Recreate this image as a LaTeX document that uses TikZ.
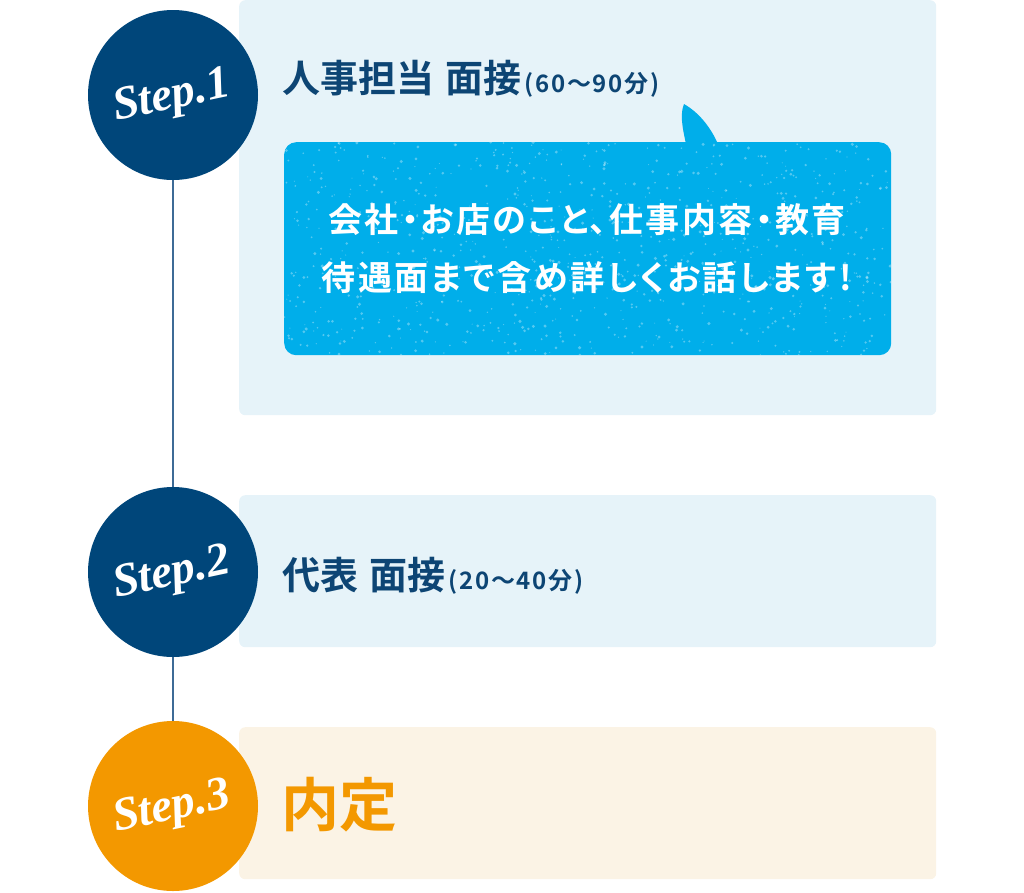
\documentclass[tikz,border=0pt]{standalone}
\usepackage{fontspec}
\newfontfamily\jp{Noto Sans CJK JP}[BoldFont={* Bold}]
\newfontfamily\jpp{Noto Sans CJK JP}[BoldFont={* Bold}, RawFeature=+palt, LetterSpace=7.5]
\newfontfamily\stepfont{Liberation Serif}
\definecolor{navy}{HTML}{00467A}
\definecolor{titlenavy}{HTML}{0D4574}
\definecolor{linecol}{HTML}{3D6B96}
\definecolor{paleblue}{HTML}{E6F3F9}
\definecolor{cream}{HTML}{FBF3E5}
\definecolor{bubblecol}{HTML}{00AEEA}
\definecolor{orange}{HTML}{F39800}
\tikzset{
  panel/.style={rounded corners=6pt, minimum width=697pt, anchor=north west, inner sep=0pt},
  stepcircle/.style={circle, minimum size=170pt, inner sep=0pt},
  steplabel/.style={text=white, rotate=12, inner sep=0pt, font=\stepfont\bfseries\itshape\fontsize{47}{50}\selectfont},
  title/.style={anchor=west, inner sep=0pt, text=titlenavy, font=\jp\bfseries\fontsize{38}{40}\selectfont},
  connector/.style={draw=linecol, line width=1.5pt}
}
\newcommand{\smalltxt}[1]{{\hspace{0.08em}\jp\bfseries\fontsize{24}{26}\selectfont\addfontfeature{LetterSpace=7}#1}}
\begin{document}
\begin{tikzpicture}[x=1pt,y=-1pt]
\useasboundingbox (0,0) rectangle (1024,892);
% panels
\node[panel, fill=paleblue, minimum height=415pt] (p1) at (239,0) {};
\node[panel, fill=paleblue, minimum height=152pt] (p2) at (239,495) {};
\node[panel, fill=cream, minimum height=152pt] (p3) at (239,727) {};
% circles
\node[stepcircle, fill=navy] (s1) at (173,95) {};
\node[stepcircle, fill=navy] (s2) at (173,572) {};
\node[stepcircle, fill=orange] (s3) at (173,806) {};
\draw[connector] (s1.south) -- (s2.north);
\draw[connector] (s2.south) -- (s3.north);
\node[steplabel] (l1) at (172,98) {Step.1};
\node[steplabel] (l2) at (172,575) {Step.2};
\node[steplabel] (l3) at (172,809) {Step.3};
% titles
\node[title] (h1) at (282,79) {人事担当\hspace{0.3em}面接\smalltxt{(60〜90分)}};
\node[title] (h2) at (282,576) {代表\hspace{0.3em}面接\smalltxt{(20〜40分)}};
\node[title, text=orange, font=\jp\bfseries\fontsize{58}{60}\selectfont] (h3) at (281,805) {内定};
% bubble
\fill[bubblecol] (686,144) .. controls (682,126) and (680,114) .. (684,104)
  .. controls (698,112) and (710,126) .. (718,144) -- cycle;
\node[fill=bubblecol, rounded corners=12pt, minimum width=607pt, minimum height=213pt, anchor=north west, inner sep=0pt] (bub) at (284,142) {};
\begin{scope}
\clip[rounded corners=12pt] (284,142) rectangle (891,355);
\pgfmathsetseed{7}
\foreach \i in {1,...,900}{
  \fill[white, opacity=0.33] ({284+607*rnd},{142+213*rnd}) circle ({0.5+1.2*rnd});
}
\end{scope}
\node[align=center, text=white, font=\jpp\bfseries\fontsize{34}{58}\selectfont, inner sep=0pt] (bt) at (587,249) {会社・お店のこと、仕事内容・教育\\待遇面まで含め詳しくお話します\hspace{0.12em}!};
\end{tikzpicture}
\end{document}
